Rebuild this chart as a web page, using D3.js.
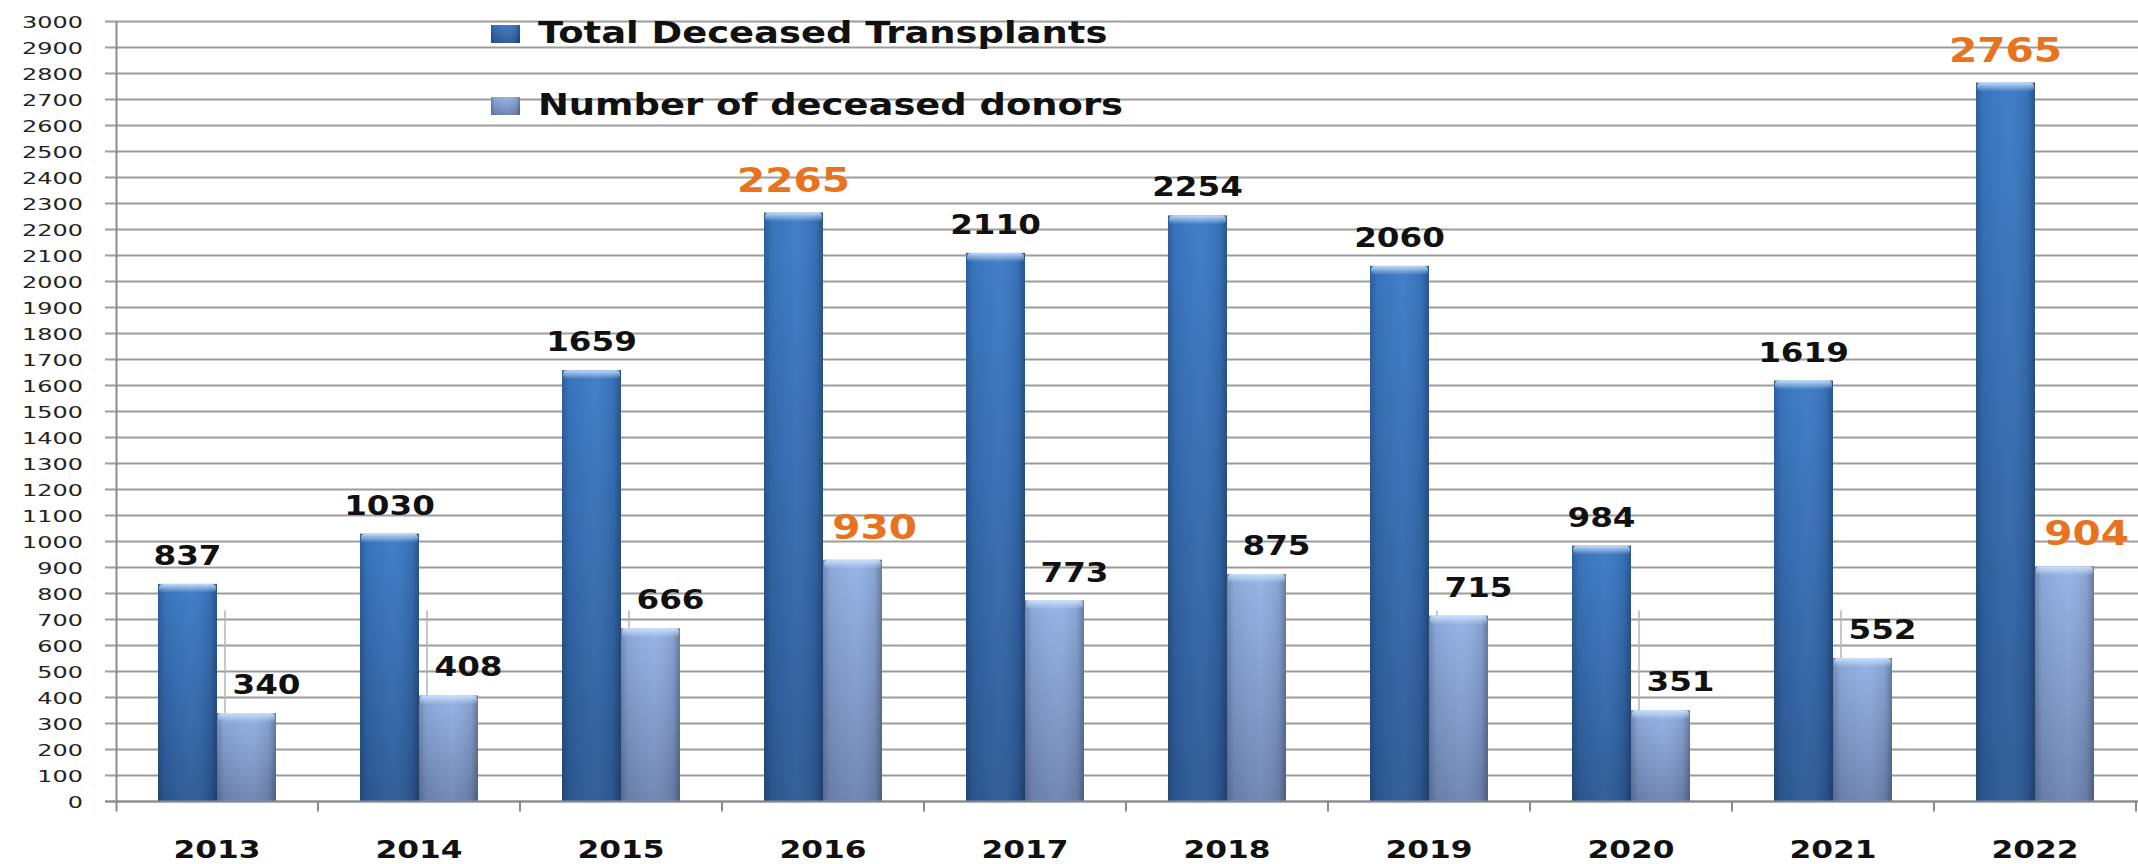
<!DOCTYPE html>
<html>
<head>
<meta charset="utf-8">
<script src="https://d3js.org/d3.v7.min.js"></script>
<style>
  body { margin: 0; background: #fff; }
  svg { display: block; }
  text { font-family: "DejaVu Sans", Verdana, sans-serif; }
</style>
</head>
<body>
<div id="chart"></div>
<script>

// chart values
var years = ["2013", "2014", "2015", "2016", "2017", "2018", "2019", "2020", "2021", "2022"];
var transplants = [837, 1030, 1659, 2265, 2110, 2254, 2060, 984, 1619, 2765];
var donors = [340, 408, 666, 930, 773, 875, 715, 351, 552, 904];
var seriesNames = ["Total Deceased Transplants", "Number of deceased donors"];
var yTicks = d3.range(0, 3001, 100);
// the two years whose labels are shown in orange
var highlightYears = ["2016", "2022"];

var width = 2138, height = 864;

var svg = d3.select("#chart").append("svg")
    .attr("width", width)
    .attr("height", height);

var defs = svg.append("defs");

//Vertical gradients give the bars their lighter top / darker bottom.
function vGrad(id, top, bottom) {
    var g = defs.append("linearGradient").attr("id", id)
        .attr("x1", 0).attr("y1", 0).attr("x2", 0).attr("y2", 1);
    g.append("stop").attr("offset", "0%").attr("stop-color", top);
    g.append("stop").attr("offset", "100%").attr("stop-color", bottom);
}
vGrad("darkFill", "#3b7ac6", "#2c5995");
vGrad("lightFill", "#94b2e4", "#6d84b2");

//Horizontal shading so the columns look a bit round.
var hg = defs.append("linearGradient").attr("id", "shade")
    .attr("x1", 0).attr("y1", 0).attr("x2", 1).attr("y2", 0);
hg.append("stop").attr("offset", "0%").attr("stop-color", "#000").attr("stop-opacity", 0.22);
hg.append("stop").attr("offset", "12%").attr("stop-color", "#000").attr("stop-opacity", 0.05);
hg.append("stop").attr("offset", "55%").attr("stop-color", "#fff").attr("stop-opacity", 0.04);
hg.append("stop").attr("offset", "88%").attr("stop-color", "#000").attr("stop-opacity", 0.08);
hg.append("stop").attr("offset", "100%").attr("stop-color", "#000").attr("stop-opacity", 0.3);

//The little bevel on top of each bar.
var bevel = defs.append("linearGradient").attr("id", "bevel")
    .attr("x1", 0).attr("y1", 0).attr("x2", 0).attr("y2", 1);
bevel.append("stop").attr("offset", "0%").attr("stop-color", "#cfe6ff").attr("stop-opacity", 0.9);
bevel.append("stop").attr("offset", "100%").attr("stop-color", "#cfe6ff").attr("stop-opacity", 0);

/* ---- scales ---- */
var x = d3.scaleBand().domain(years).range([116, 2136]);
var xInner = d3.scaleBand().domain([0, 1]).range([42, 160]);
var y = d3.scaleLinear().domain([0, 3000]).range([801.5, 21.5]);

/* ---- gridlines ---- */
svg.append("g")
    .selectAll("line")
    .data(yTicks)
    .enter().append("line")
    .attr("x1", 105).attr("x2", width)
    .attr("y1", function(d) { return y(d); })
    .attr("y2", function(d) { return y(d); })
    .style("stroke", "#9c9c9c")
    .style("stroke-width", 2);

//Y axis labels. The picture is stretched sideways, so the text is too.
svg.append("g")
    .selectAll("text")
    .data(yTicks)
    .enter().append("text")
    .attr("text-anchor", "end")
    .attr("transform", function(d) { return "translate(83," + (y(d) + 6) + ") scale(1.45,1)"; })
    .style("font-size", "16.5px")
    .style("fill", "#222")
    .text(function(d) { return d; });

/* ---- bars ---- */
var rows = years.map(function(yr, i) {
    return { year: yr, values: [transplants[i], donors[i]] };
});

var groups = svg.append("g")
    .selectAll("g")
    .data(rows)
    .enter().append("g")
    .attr("transform", function(d) { return "translate(" + x(d.year) + ",0)"; });

var bars = groups.selectAll("g.bar")
    .data(function(d) { return d.values.map(function(v, k) { return { k: k, v: v, year: d.year }; }); })
    .enter().append("g")
    .attr("class", "bar");

bars.append("rect")
    .attr("x", function(d) { return xInner(d.k); })
    .attr("y", function(d) { return y(d.v); })
    .attr("width", xInner.bandwidth())
    .attr("height", function(d) { return y(0) - y(d.v); })
    .style("fill", function(d) { return d.k === 0 ? "url(#darkFill)" : "url(#lightFill)"; });

bars.append("rect")
    .attr("x", function(d) { return xInner(d.k); })
    .attr("y", function(d) { return y(d.v); })
    .attr("width", xInner.bandwidth())
    .attr("height", function(d) { return y(0) - y(d.v); })
    .style("fill", "url(#shade)");

bars.append("rect")
    .attr("x", function(d) { return xInner(d.k) + 1; })
    .attr("y", function(d) { return y(d.v); })
    .attr("width", xInner.bandwidth() - 2)
    .attr("height", 9)
    .attr("rx", 4)
    .style("fill", "url(#bevel)");

//thin leader lines above the short donor bars
groups.filter(function(d) { return d.values[1] < 735; })
    .append("line")
    .attr("x1", xInner(1) + 8).attr("x2", xInner(1) + 8)
    .attr("y1", y(735))
    .attr("y2", function(d) { return y(d.values[1]); })
    .style("stroke", "#b5b5b5")
    .style("stroke-width", 1.5);

/* ---- value labels ---- */
var orange = "#e8731f";

bars.append("text")
    .attr("text-anchor", "middle")
    .attr("transform", function(d) {
        var hot = highlightYears.indexOf(d.year) >= 0;
        var cx = xInner(d.k) + xInner.bandwidth() / 2 + (d.k === 0 ? 0 : (hot ? 22 : 20));
        var cy = y(d.v) - (hot ? 21 : 19);
        return "translate(" + cx + "," + cy + ") scale(1.23,1)";
    })
    .style("font-weight", "bold")
    .style("font-size", function(d) { return highlightYears.indexOf(d.year) >= 0 ? "33px" : "26.5px"; })
    .style("fill", function(d) { return highlightYears.indexOf(d.year) >= 0 ? orange : "#111"; })
    .text(function(d) { return d.v; });

/* ---- axes ---- */
svg.append("line")
    .attr("x1", 116.5).attr("x2", 116.5)
    .attr("y1", y(3000)).attr("y2", y(0) + 10)
    .style("stroke", "#8c8c8c").style("stroke-width", 2);

svg.append("line")
    .attr("x1", 105).attr("x2", width)
    .attr("y1", y(0)).attr("y2", y(0))
    .style("stroke", "#8c8c8c").style("stroke-width", 2);

svg.append("g")
    .selectAll("line")
    .data(years)
    .enter().append("line")
    .attr("x1", function(d) { return x(d) + x.bandwidth(); })
    .attr("x2", function(d) { return x(d) + x.bandwidth(); })
    .attr("y1", y(0)).attr("y2", y(0) + 10)
    .style("stroke", "#8c8c8c").style("stroke-width", 2);

svg.append("g")
    .selectAll("text")
    .data(years)
    .enter().append("text")
    .attr("text-anchor", "middle")
    .attr("transform", function(d) { return "translate(" + (x(d) + x.bandwidth() / 2) + ",858) scale(1.25,1)"; })
    .style("font-weight", "bold")
    .style("font-size", "25px")
    .style("fill", "#111")
    .text(function(d) { return d; });

/* ---- legend ---- */
var legend = svg.append("g")
    .selectAll("g")
    .data(seriesNames)
    .enter().append("g")
    .attr("transform", function(d, i) { return "translate(491," + (25 + i * 72) + ")"; });

legend.append("rect")
    .attr("width", 29).attr("height", 18)
    .style("fill", function(d, i) { return i === 0 ? "url(#darkFill)" : "url(#lightFill)"; });
legend.append("rect")
    .attr("width", 29).attr("height", 18)
    .style("fill", "url(#shade)");

legend.append("text")
    .attr("transform", "translate(47,18) scale(1.23,1)")
    .style("font-weight", "bold")
    .style("font-size", "30px")
    .style("fill", "#111")
    .text(function(d) { return d; });

</script>
</body>
</html>
